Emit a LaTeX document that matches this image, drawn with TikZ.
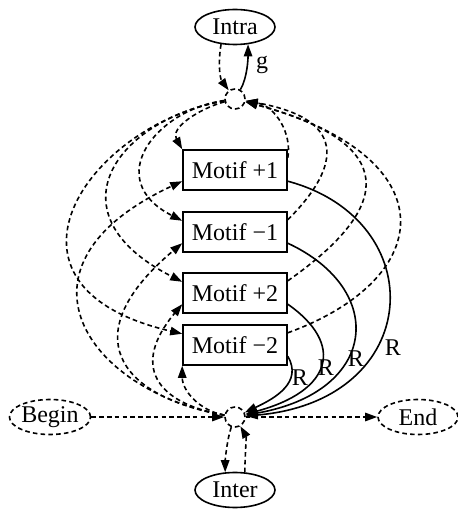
\documentclass[tikz,border=0pt]{standalone}
\usepackage{fontspec}
\setmainfont{Liberation Serif}
\usetikzlibrary{shapes.geometric,arrows.meta}

\tikzset{
  dashline/.style={thick,dash pattern=on 2.3pt off 1.6pt},
  lbl/.style={inner sep=1pt}
}

\begin{document}
\begin{tikzpicture}[x=0.5pt,y=0.5pt,font=\fontsize{12}{14}\selectfont,
    >={Triangle[length=6pt,width=4.2pt]}]
      \useasboundingbox (0,0) rectangle (458,509);
      \begin{scope}[every node/.style={ellipse,thick,draw,minimum width=40pt,minimum height=17.5pt,inner sep=0pt}]
        \node (intra) at (235,482) {Intra};
        \node (inter) at (235,19) {Inter};
        \node[dashline] (begin) at (50,92) {Begin};
        \node[dashline] (end) at (418,92) {End};
      \end{scope}
      \begin{scope}[every node/.style={circle,dashline,draw,minimum size=10pt,inner sep=0pt}]
        \node (ht) at (235,410) {};
        \node (hb) at (235,92) {};
      \end{scope}
      \begin{scope}[every node/.style={rectangle,thick,draw,minimum width=52pt,minimum height=20pt}]
        \node (m1) at (235,339) {Motif +1};
        \node (m2) at (235,277) {Motif −1};
        \node (m3) at (235,216) {Motif +2};
        \node (m4) at (235,164) {Motif −2};
      \end{scope}
      \node[lbl] (g) at (262,444) {g};
      \node[lbl] (r4) at (300,131) {R};
      \node[lbl] (r3) at (326,141) {R};
      \node[lbl] (r2) at (356,150) {R};
      \node[lbl] (r1) at (393,161) {R};
      \begin{scope}[every edge/.style={draw,thick,->}]
        % top
        \path (intra.231) edge[dashline,out=-100,in=126,distance=8pt] (ht);
        \path (ht) edge[out=60,in=-90,distance=7pt] (intra.-53);
        % top hub to the motifs
        \path (ht) edge[dashline,out=195,in=120,out distance=12.5pt,in distance=12.5pt] (m1.north west);
        \path (ht) edge[dashline,out=188,in=153,out distance=35pt,in distance=45pt] (m2.168);
        \path (ht) edge[dashline,out=190,in=153,out distance=55pt,in distance=75pt] (m3.168);
        \path (ht) edge[dashline,out=190,in=167,out distance=70pt,in distance=105pt] (m4.168);
        % bottom hub to the motifs
        \path (hb) edge[dashline,out=170,in=270,out distance=12.5pt,in distance=12.5pt] (m4.south west);
        \path (hb) edge[dashline,out=170,in=230,out distance=35pt,in distance=40pt] (m3.192);
        \path (hb) edge[dashline,out=170,in=220,out distance=55pt,in distance=70pt] (m2.192);
        \path (hb) edge[dashline,out=170,in=205,out distance=70pt,in distance=100pt] (m1.192);
        % motifs back to the top hub
        \path (m1.13) edge[dashline,out=80,in=-10,out distance=12.5pt,in distance=15pt] (ht);
        \path (m2.13) edge[dashline,out=45,in=-10,out distance=40pt,in distance=50pt] (ht);
        \path (m3.13) edge[dashline,out=35,in=-15,out distance=65pt,in distance=80pt] (ht);
        \path (m4.13) edge[dashline,out=20,in=-15,out distance=80pt,in distance=105pt] (ht);
        % motifs to the bottom hub (R)
        \path (m1.-12) edge[out=-15,in=5,out distance=75pt,in distance=90pt] (hb);
        \path (m2.-12) edge[out=-25,in=10,out distance=55pt,in distance=67.5pt] (hb);
        \path (m3.-12) edge[out=-35,in=15,out distance=35pt,in distance=45pt] (hb);
        \path (m4.-12) edge[out=-60,in=25,out distance=15pt,in distance=17pt] (hb);
        % bottom
        \path (begin) edge[dashline] (hb);
        \path (hb) edge[dashline] (end);
        \path (hb) edge[dashline,out=-110,in=90,distance=6pt] (inter.119);
        \path (inter.61) edge[dashline,out=90,in=-60,distance=6pt] (hb);
      \end{scope}
    \end{tikzpicture}
\end{document}
